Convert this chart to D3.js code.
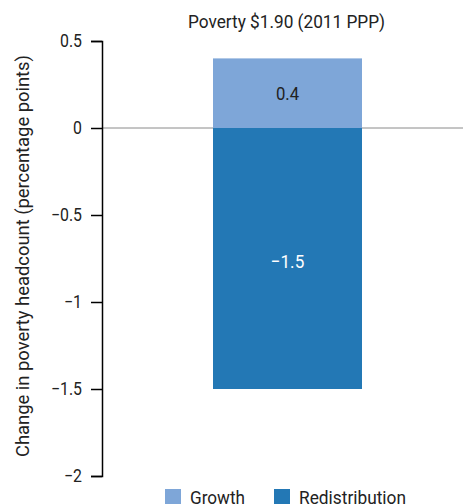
<!DOCTYPE html>
<html><head><meta charset="utf-8">
<script src="https://cdn.jsdelivr.net/npm/d3@7"></script>
<style>
body{margin:0;background:#fff;}
text{font-family:Roboto,"Liberation Sans",sans-serif;fill:#222;}
</style></head><body>
<svg id="c" width="463" height="504"></svg>
<script>
const categories = ["Poverty $1.90 (2011 PPP)"];
const seriesNames = ["Growth", "Redistribution"];
const growth = [0.4];
const redistribution = [-1.5];
const tickValues = [0.5, 0, -0.5, -1, -1.5, -2];
const tickLabels = ["0.5", "0", "\u22120.5", "\u22121", "\u22121.5", "\u22122"];
const colors = ["#7ea6d8", "#2378b5"];

const svg = d3.select("#c");
const y = d3.scaleLinear().domain([-2, 0.5]).range([476, 41]);

function squeeze(sel, f) {
  sel.each(function () {
    const w = this.getComputedTextLength();
    d3.select(this).attr("textLength", w * f).attr("lengthAdjust", "spacingAndGlyphs");
  });
}
function fitTo(sel, w) {
  sel.attr("textLength", w).attr("lengthAdjust", "spacingAndGlyphs");
}

// zero line
svg.append("line").attr("x1", 102).attr("x2", 463).attr("y1", y(0)).attr("y2", y(0))
  .attr("stroke", "#8a8a8a").attr("stroke-width", 1);

// bars
categories.forEach((c, i) => {
  const bx = 213, bw = 149;
  svg.append("rect").attr("x", bx).attr("width", bw)
    .attr("y", y(growth[i])).attr("height", y(0) - y(growth[i])).attr("fill", colors[0]);
  svg.append("rect").attr("x", bx).attr("width", bw)
    .attr("y", y(0)).attr("height", y(redistribution[i]) - y(0)).attr("fill", colors[1]);
  const t1 = svg.append("text").attr("x", bx + bw / 2).attr("y", (y(growth[i]) + y(0)) / 2 + 7)
    .attr("text-anchor", "middle").attr("font-size", 19).text(String(growth[i]));
  squeeze(t1, 0.88);
  const t2 = svg.append("text").attr("x", bx + bw / 2).attr("y", (y(redistribution[i]) + y(0)) / 2 + 9)
    .attr("text-anchor", "middle").attr("font-size", 19).style("fill", "#fff")
    .text("\u2212" + Math.abs(redistribution[i]));
  squeeze(t2, 0.9);
  const tt = svg.append("text").attr("x", 286.5).attr("y", 28)
    .attr("text-anchor", "middle").attr("font-size", 19).text(c);
  fitTo(tt, 197);
});

// axis
const axis = d3.axisLeft(y).tickValues(tickValues).tickSize(11).tickPadding(9)
  .tickFormat((d, i) => tickLabels[i]);
const g = svg.append("g").attr("transform", "translate(102,0)").call(axis);
g.select(".domain").attr("stroke", "#000").attr("stroke-width", 1.5);
g.selectAll(".tick line").attr("stroke", "#000").attr("stroke-width", 1.5);
g.selectAll(".tick text").attr("font-size", 18).style("fill", "#222")
  .attr("font-family", "Roboto,'Liberation Sans',sans-serif");
squeeze(g.selectAll(".tick text"), 0.88);

// y label
const yl = svg.append("text").attr("transform", "translate(29,256) rotate(-90)")
  .attr("text-anchor", "middle").attr("font-size", 19)
  .text("Change in poverty headcount (percentage points)");
fitTo(yl, 402);

// legend
const leg = [{n: seriesNames[0], x: 165, c: colors[0], w: 55}, {n: seriesNames[1], x: 274, c: colors[1], w: 107}];
leg.forEach(l => {
  svg.append("rect").attr("x", l.x).attr("y", 489).attr("width", 16).attr("height", 16).attr("fill", l.c);
  const t = svg.append("text").attr("x", l.x + 25).attr("y", 504).attr("font-size", 19).text(l.n);
  fitTo(t, l.w);
});
</script></body></html>
